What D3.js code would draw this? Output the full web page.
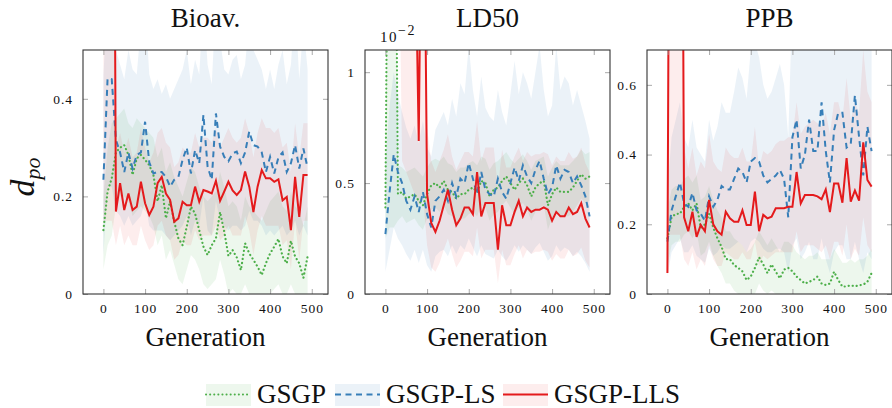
<!DOCTYPE html>
<html>
<head>
<meta charset="utf-8">
<script src="https://cdn.jsdelivr.net/npm/d3@7"></script>
<style>
  body { margin: 0; background: #fff; }
  svg text { font-family: "Liberation Serif", "DejaVu Serif", serif; fill: #111; }
</style>
</head>
<body>
<svg id="chart" width="892" height="408"></svg>
<script>
// generations 0..490 step 10
const generations = [0,10,20,30,40,50,60,70,80,90,100,110,120,130,140,150,160,170,180,190,200,210,220,230,240,250,260,270,280,290,300,310,320,330,340,350,360,370,380,390,400,410,420,430,440,450,460,470,480,490];
const xTicks = [0, 100, 200, 300, 400, 500];
const seriesNames = ["GSGP", "GSGP-LS", "GSGP-LLS"];
const panelTitles = ["Bioav.", "LD50", "PPB"];

// Bioav.
const bioGsgp = [0.131,0.21,0.237,0.29,0.30,0.305,0.285,0.244,0.278,0.285,0.275,0.264,0.244,0.19,0.223,0.155,0.19,0.148,0.114,0.1,0.138,0.179,0.165,0.131,0.097,0.08,0.1,0.114,0.168,0.128,0.078,0.09,0.075,0.049,0.104,0.083,0.07,0.056,0.039,0.063,0.083,0.097,0.113,0.077,0.063,0.109,0.077,0.063,0.033,0.077];
const bioGsgpHi = [0.2,0.3,0.35,0.36,0.37,0.38,0.35,0.34,0.36,0.35,0.34,0.33,0.32,0.28,0.3,0.25,0.27,0.24,0.22,0.2,0.23,0.26,0.25,0.22,0.2,0.19,0.2,0.21,0.25,0.22,0.18,0.19,0.18,0.15,0.2,0.18,0.17,0.16,0.15,0.17,0.19,0.2,0.21,0.18,0.17,0.21,0.18,0.17,0.14,0.18];
const bioGsgpLo = [0.05,0.1,0.12,0.18,0.2,0.2,0.19,0.16,0.17,0.18,0.17,0.16,0.14,0.1,0.12,0.07,0.09,0.06,0.03,0.02,0.05,0.08,0.07,0.05,0.02,0.01,0.02,0.03,0.07,0.04,0,0.01,0,0,0.02,0,0,0,0,0,0,0.01,0.02,0,0,0.02,0,0,0,0];
const bioLs = [0.234,0.442,0.44,0.316,0.29,0.25,0.29,0.257,0.285,0.29,0.353,0.27,0.247,0.25,0.25,0.24,0.22,0.234,0.24,0.275,0.30,0.247,0.295,0.268,0.367,0.261,0.234,0.37,0.302,0.281,0.272,0.288,0.292,0.268,0.29,0.333,0.305,0.302,0.29,0.25,0.281,0.247,0.28,0.29,0.25,0.268,0.305,0.257,0.298,0.258];
const bioLsHi = [0.45,0.6,0.6,0.5,0.47,0.44,0.5,0.46,0.45,0.55,0.6,0.45,0.42,0.44,0.41,0.43,0.4,0.42,0.44,0.46,0.5,0.43,0.48,0.45,0.6,0.47,0.43,0.6,0.52,0.46,0.45,0.48,0.49,0.44,0.47,0.56,0.5,0.48,0.46,0.42,0.46,0.42,0.47,0.5,0.43,0.47,0.6,0.44,0.55,0.46];
const bioLsLo = [0.08,0.22,0.22,0.17,0.16,0.14,0.16,0.14,0.15,0.16,0.19,0.14,0.13,0.13,0.13,0.12,0.11,0.12,0.13,0.14,0.16,0.12,0.15,0.14,0.2,0.13,0.12,0.19,0.15,0.14,0.13,0.14,0.14,0.13,0.14,0.17,0.15,0.15,0.14,0.12,0.13,0.12,0.13,0.14,0.12,0.13,0.15,0.12,0.14,0.12];
const bioLls = [3,3,3,0.169,0.227,0.172,0.206,0.172,0.179,0.230,0.186,0.162,0.179,0.227,0.240,0.206,0.193,0.148,0.155,0.189,0.182,0.182,0.220,0.189,0.213,0.210,0.206,0.232,0.191,0.210,0.230,0.212,0.203,0.213,0.251,0.220,0.168,0.220,0.254,0.237,0.237,0.230,0.235,0.192,0.199,0.131,0.240,0.158,0.244,0.244];
const bioLlsHi = [3,3,3,0.3,0.33,0.29,0.32,0.28,0.29,0.34,0.3,0.27,0.29,0.33,0.34,0.31,0.3,0.26,0.27,0.3,0.29,0.29,0.33,0.3,0.32,0.32,0.31,0.34,0.3,0.32,0.34,0.32,0.31,0.32,0.36,0.33,0.28,0.33,0.36,0.34,0.34,0.33,0.34,0.3,0.31,0.25,0.35,0.28,0.35,0.35];
const bioLlsLo = [0.15,0.15,0.15,0.1,0.14,0.1,0.12,0.1,0.1,0.14,0.11,0.09,0.1,0.14,0.15,0.12,0.11,0.07,0.08,0.11,0.1,0.1,0.13,0.11,0.12,0.12,0.12,0.14,0.11,0.12,0.14,0.12,0.12,0.12,0.16,0.13,0.08,0.13,0.16,0.14,0.14,0.14,0.14,0.1,0.11,0.05,0.15,0.07,0.15,0.15];

// LD50 (x 10^-2)
const ldGsgp = [0.39,3,3,0.45,0.46,0.43,0.44,0.45,0.42,0.4,0.45,0.49,0.5,0.48,0.51,0.47,0.46,0.43,0.45,0.45,0.47,0.48,0.46,0.51,0.5,0.44,0.47,0.48,0.51,0.53,0.5,0.47,0.5,0.52,0.49,0.44,0.48,0.5,0.51,0.4,0.45,0.48,0.46,0.46,0.46,0.48,0.51,0.54,0.52,0.53];
const ldGsgpHi = [0.55,3,3,0.58,0.57,0.55,0.56,0.57,0.55,0.53,0.57,0.6,0.61,0.6,0.62,0.59,0.58,0.55,0.57,0.57,0.59,0.6,0.58,0.62,0.61,0.56,0.59,0.6,0.62,0.64,0.61,0.59,0.61,0.63,0.6,0.56,0.6,0.61,0.62,0.53,0.57,0.6,0.58,0.58,0.58,0.6,0.62,0.65,0.63,0.64];
const ldGsgpLo = [0.25,0.3,0.3,0.33,0.35,0.32,0.33,0.34,0.31,0.29,0.34,0.38,0.39,0.37,0.4,0.36,0.35,0.32,0.34,0.34,0.36,0.37,0.35,0.4,0.39,0.33,0.36,0.37,0.4,0.42,0.39,0.36,0.39,0.41,0.38,0.33,0.37,0.39,0.4,0.29,0.34,0.37,0.35,0.35,0.35,0.37,0.4,0.43,0.41,0.42];
const ldLs = [0.27,0.46,0.63,0.55,0.5,0.42,0.38,0.44,0.37,0.46,0.36,0.3,0.42,0.44,0.47,0.42,0.5,0.44,0.52,0.5,0.59,0.52,0.45,0.55,0.47,0.45,0.44,0.52,0.46,0.43,0.5,0.57,0.51,0.58,0.53,0.5,0.56,0.6,0.52,0.45,0.48,0.58,0.52,0.56,0.55,0.5,0.53,0.49,0.44,0.35];
const ldLsHi = [0.6,0.85,1.0,0.9,0.82,0.75,0.7,0.76,0.68,0.78,0.66,0.62,0.74,0.78,0.82,0.76,0.88,0.8,0.95,0.9,1.12,0.92,0.8,0.98,0.84,0.8,0.78,0.92,0.82,0.76,0.9,1.05,0.9,1.0,0.95,0.88,1.0,1.12,0.92,0.8,0.85,1.12,0.92,0.98,0.95,0.85,0.92,0.85,0.78,0.7];
const ldLsLo = [0.1,0.2,0.3,0.25,0.22,0.18,0.15,0.2,0.14,0.2,0.13,0.1,0.17,0.19,0.2,0.17,0.22,0.18,0.22,0.2,0.25,0.21,0.17,0.22,0.18,0.17,0.16,0.2,0.17,0.15,0.18,0.22,0.19,0.22,0.2,0.18,0.21,0.23,0.19,0.15,0.17,0.22,0.19,0.21,0.2,0.17,0.19,0.17,0.14,0.1];
const ldLls = [3,3,3,3,3,3,3,1.8,0.69,2.5,0.45,0.32,0.28,0.33,0.4,0.47,0.38,0.31,0.34,0.39,0.39,0.36,0.55,0.35,0.41,0.41,0.41,0.2,0.4,0.31,0.31,0.37,0.42,0.35,0.39,0.37,0.38,0.38,0.39,0.38,0.33,0.37,0.35,0.35,0.39,0.36,0.37,0.41,0.34,0.3];
const ldLlsHi = [3,3,3,3,3,3,3,3,3,3,0.75,0.6,0.55,0.6,0.65,0.72,0.62,0.56,0.6,0.64,0.64,0.62,0.78,0.6,0.66,0.66,0.66,0.48,0.65,0.57,0.57,0.62,0.66,0.6,0.64,0.62,0.63,0.63,0.64,0.63,0.58,0.62,0.6,0.6,0.64,0.61,0.62,0.66,0.59,0.55];
const ldLlsLo = [2,2,2,2,0.6,0.55,0.5,0.45,0.4,0.45,0.22,0.12,0.1,0.14,0.2,0.25,0.18,0.12,0.15,0.19,0.19,0.17,0.3,0.16,0.2,0.2,0.2,0.05,0.2,0.13,0.13,0.18,0.22,0.16,0.2,0.18,0.19,0.19,0.2,0.19,0.15,0.18,0.16,0.16,0.2,0.17,0.18,0.21,0.15,0.12];

// PPB
const ppbGsgp = [0.16,0.22,0.23,0.23,0.25,0.26,0.24,0.26,0.19,0.2,0.23,0.19,0.16,0.135,0.1,0.1,0.083,0.075,0.065,0.04,0.05,0.075,0.105,0.085,0.06,0.085,0.064,0.045,0.07,0.075,0.065,0.05,0.04,0.03,0.035,0.04,0.05,0.03,0.026,0.03,0.064,0.04,0.021,0.022,0.025,0.022,0.025,0.027,0.035,0.06];
const ppbGsgpHi = [0.24,0.3,0.31,0.31,0.33,0.34,0.32,0.34,0.27,0.28,0.31,0.27,0.24,0.22,0.18,0.18,0.16,0.15,0.14,0.12,0.13,0.15,0.18,0.16,0.14,0.16,0.14,0.12,0.15,0.15,0.14,0.12,0.11,0.1,0.11,0.11,0.12,0.1,0.1,0.1,0.13,0.11,0.09,0.09,0.1,0.09,0.1,0.1,0.11,0.13];
const ppbGsgpLo = [0.08,0.14,0.15,0.15,0.17,0.18,0.16,0.18,0.11,0.12,0.15,0.11,0.08,0.06,0.03,0.03,0.01,0,0,0,0,0,0.03,0.01,0,0.01,0,0,0,0,0,0,0,0,0,0,0,0,0,0,0,0,0,0,0,0,0,0,0,0];
const ppbLs = [0.15,0.24,0.28,0.32,0.26,0.25,0.29,0.24,0.23,0.21,0.28,0.25,0.27,0.31,0.3,0.3,0.33,0.36,0.35,0.32,0.38,0.39,0.38,0.34,0.32,0.33,0.34,0.356,0.33,0.22,0.45,0.5,0.36,0.4,0.5,0.41,0.41,0.55,0.41,0.32,0.47,0.52,0.52,0.42,0.43,0.57,0.45,0.34,0.48,0.41];
const ppbLsHi = [0.3,0.45,0.5,0.55,0.45,0.42,0.5,0.42,0.4,0.38,0.5,0.44,0.48,0.55,0.52,0.52,0.58,0.65,0.62,0.56,0.7,0.72,0.68,0.6,0.56,0.58,0.62,0.66,0.6,0.45,0.85,0.9,0.8,0.85,0.9,0.85,0.85,0.95,0.85,0.75,0.9,0.95,0.95,0.85,0.85,1.0,0.9,0.8,0.95,0.85];
const ppbLsLo = [0.05,0.12,0.14,0.16,0.12,0.12,0.14,0.11,0.1,0.09,0.13,0.11,0.12,0.14,0.13,0.13,0.14,0.15,0.14,0.12,0.15,0.16,0.15,0.13,0.12,0.12,0.13,0.13,0.12,0.06,0.14,0.16,0.1,0.12,0.15,0.1,0.1,0.16,0.1,0.06,0.12,0.14,0.14,0.1,0.1,0.15,0.1,0.06,0.12,0.1];
const ppbLls = [0.06,3,3,3,0.22,0.18,0.236,0.164,0.198,0.18,0.27,0.2,0.18,0.17,0.236,0.217,0.207,0.207,0.24,0.198,0.198,0.294,0.18,0.227,0.217,0.222,0.246,0.246,0.246,0.25,0.25,0.35,0.26,0.284,0.284,0.284,0.28,0.272,0.3,0.235,0.317,0.317,0.262,0.39,0.265,0.297,0.268,0.435,0.327,0.308];
const ppbLlsHi = [3,3,3,3,0.42,0.36,0.42,0.34,0.38,0.36,0.46,0.38,0.36,0.35,0.42,0.4,0.39,0.39,0.42,0.38,0.38,0.48,0.36,0.41,0.4,0.41,0.43,0.44,0.44,0.45,0.45,0.55,0.46,0.48,0.49,0.5,0.49,0.48,0.52,0.46,0.55,0.55,0.5,0.62,0.5,0.55,0.52,0.7,0.58,0.55];
const ppbLlsLo = [0.17,0.17,0.17,0.17,0.1,0.08,0.12,0.07,0.1,0.08,0.14,0.1,0.08,0.08,0.12,0.11,0.1,0.1,0.12,0.1,0.1,0.15,0.08,0.11,0.1,0.11,0.12,0.12,0.12,0.12,0.12,0.18,0.12,0.14,0.14,0.14,0.13,0.12,0.14,0.1,0.15,0.15,0.11,0.2,0.1,0.13,0.11,0.22,0.14,0.12];

const yTicksBio = [0, 0.2, 0.4];
const yTicksLd = [0, 0.5, 1];
const yTicksPpb = [0, 0.2, 0.4, 0.6];

const colors = ["#4daf4a", "#377eb8", "#e41a1c"];
const bandFill = ["#4daf4a", "#377eb8", "#e41a1c"];
const bandOpacity = [0.1, 0.1, 0.08];
const dash = ["0.1 4", "6 4.5", null];
const serif = "Liberation Serif, DejaVu Serif, serif";

const panels = [
  { title: panelTitles[0], left: 83, yMax: 0.5, yTicks: yTicksBio,
    series: [[bioGsgp, bioGsgpLo, bioGsgpHi], [bioLs, bioLsLo, bioLsHi], [bioLls, bioLlsLo, bioLlsHi]] },
  { title: panelTitles[1], left: 365, yMax: 1.1, yTicks: yTicksLd, exp: true,
    series: [[ldGsgp, ldGsgpLo, ldGsgpHi], [ldLs, ldLsLo, ldLsHi], [ldLls, ldLlsLo, ldLlsHi]] },
  { title: panelTitles[2], left: 647, yMax: 0.7, yTicks: yTicksPpb,
    series: [[ppbGsgp, ppbGsgpLo, ppbGsgpHi], [ppbLs, ppbLsLo, ppbLsHi], [ppbLls, ppbLlsLo, ppbLlsHi]] }
];

const svg = d3.select("#chart");
const plotTop = 50, w = 245, h = 244;
const fmt = d3.format("~g");

panels.forEach((p, pi) => {
  const g = svg.append("g").attr("transform", `translate(${p.left},${plotTop})`);
  const x = d3.scaleLinear().domain([-49, 539]).range([0, w]);
  const y = d3.scaleLinear().domain([0, p.yMax]).range([h, 0]);

  const clipId = "clip" + pi;
  g.append("clipPath").attr("id", clipId).append("rect").attr("width", w).attr("height", h);
  const plot = g.append("g").attr("clip-path", `url(#${clipId})`);

  const cy = v => y(Math.min(v, p.yMax * 4));
  p.series.forEach((s, si) => {
    const area = d3.area()
      .x((d, i) => x(generations[i]))
      .y0((d, i) => cy(s[1][i]))
      .y1((d, i) => cy(s[2][i]));
    plot.append("path").datum(s[0]).attr("d", area)
      .attr("fill", bandFill[si]).attr("fill-opacity", bandOpacity[si]);
  });
  p.series.forEach((s, si) => {
    const line = d3.line().x((d, i) => x(generations[i])).y(d => cy(d));
    const path = plot.append("path").datum(s[0]).attr("d", line)
      .attr("fill", "none").attr("stroke", colors[si])
      .attr("stroke-width", si === 0 ? 2.2 : 2);
    if (dash[si]) path.attr("stroke-dasharray", dash[si]).attr("stroke-linecap", si === 0 ? "round" : "butt");
  });

  // ticks on all four sides, inward
  const tickStyle = sel => {
    sel.attr("font-family", serif);
    sel.select(".domain").remove();
    sel.selectAll(".tick line").attr("stroke", "#aaa").attr("stroke-width", 1);
    sel.selectAll(".tick text").attr("font-size", 13.5).attr("letter-spacing", "1px").attr("fill", "#222");
  };
  g.append("g").attr("transform", `translate(0,${h})`)
    .call(d3.axisBottom(x).tickValues(xTicks).tickSize(-5).tickPadding(9).tickFormat(fmt))
    .call(tickStyle);
  g.append("g")
    .call(d3.axisTop(x).tickValues(xTicks).tickSize(-5).tickFormat(""))
    .call(tickStyle);
  g.append("g")
    .call(d3.axisLeft(y).tickValues(p.yTicks).tickSize(-5).tickPadding(10).tickFormat(fmt))
    .call(tickStyle);
  g.append("g").attr("transform", `translate(${w},0)`)
    .call(d3.axisRight(y).tickValues(p.yTicks).tickSize(-5).tickFormat(""))
    .call(tickStyle);

  g.append("rect").attr("width", w).attr("height", h)
    .attr("fill", "none").attr("stroke", "#333").attr("stroke-width", 1.1);

  g.append("text").attr("x", w / 2).attr("y", 27 - plotTop).attr("text-anchor", "middle")
    .attr("font-size", 27).text(p.title);
  g.append("text").attr("x", w / 2).attr("y", 346 - plotTop).attr("text-anchor", "middle")
    .attr("font-size", 27).text("Generation");

  if (p.exp) {
    const t = g.append("text").attr("x", 15).attr("y", 42 - plotTop).attr("font-size", 15).attr("letter-spacing", "1.5px");
    t.append("tspan").text("10");
    t.append("tspan").attr("dy", -7).attr("font-size", 14).text("\u22122");
  }
});

// y label
const yl = svg.append("text").attr("transform", "translate(34,177) rotate(-90)")
  .attr("text-anchor", "middle").attr("font-style", "italic");
yl.append("tspan").attr("font-size", 34).text("d");
yl.append("tspan").attr("font-size", 22).attr("dy", 6).text("po");

// legend
const legendX = [206, 335, 503];
const leg = svg.append("g");
seriesNames.forEach((name, i) => {
  const lx = legendX[i];
  leg.append("rect").attr("x", lx).attr("y", 384).attr("width", 45).attr("height", 22)
    .attr("fill", bandFill[i]).attr("fill-opacity", bandOpacity[i]);
  const ln = leg.append("line").attr("x1", lx).attr("x2", lx + 45).attr("y1", 394.5).attr("y2", 394.5)
    .attr("stroke", colors[i]).attr("stroke-width", 2);
  if (dash[i]) ln.attr("stroke-dasharray", dash[i]).attr("stroke-linecap", i === 0 ? "round" : "butt");
  leg.append("text").attr("x", lx + 51).attr("y", 403).attr("font-size", 27).text(name);
});
</script>
</body>
</html>
